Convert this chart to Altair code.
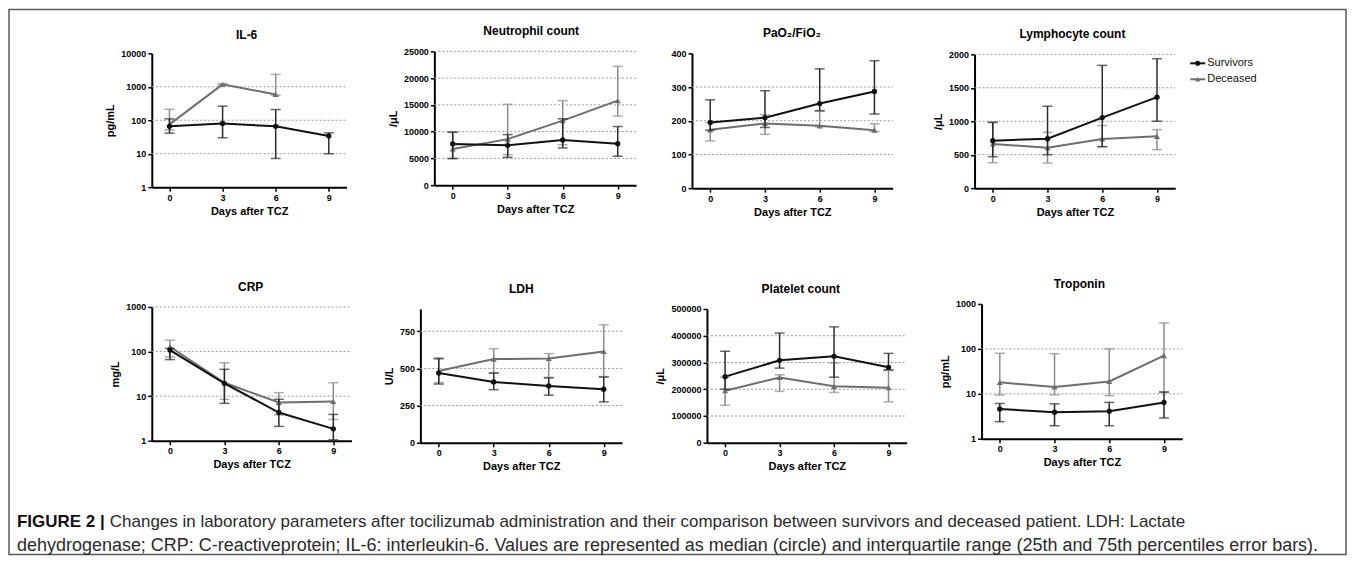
import altair as alt
import pandas as pd

NaN = float("nan")

# ---------------- data ----------------
DAYS = [0, 3, 6, 9]
GROUPS = ["Survivors", "Deceased"]
X_DOMAIN = [-1, 10]
X_TITLE = "Days after TCZ"

TITLES = ["IL-6", "Neutrophil count", "PaO\u2082/FiO\u2082", "Lymphocyte count",
          "CRP", "LDH", "Platelet count", "Troponin"]
Y_TITLES = ["pg/mL", "/\u03bcL", "", "/\u03bcL", "mg/L", "U/L", "/\u03bcL", "pg/mL"]
Y_TYPES = ["log", "linear", "linear", "linear", "log", "linear", "linear", "log"]
Y_DOMAINS = [[1, 10000], [0, 25000], [0, 400], [0, 2000],
             [1, 1000], [0, 900], [0, 500000], [1, 1000]]
Y_TICKS = [[1, 10, 100, 1000, 10000], [0, 5000, 10000, 15000, 20000, 25000],
           [0, 100, 200, 300, 400], [0, 500, 1000, 1500, 2000],
           [1, 10, 100, 1000], [0, 250, 500, 750],
           [0, 100000, 200000, 300000, 400000, 500000], [1, 10, 100, 1000]]
Y_GRID = [[10, 100, 1000], [5000, 10000, 15000, 20000, 25000], [100, 200, 300],
          [500, 1000, 1500, 2000], [10, 100, 1000], [250, 500, 750],
          [100000, 200000, 300000, 400000], [10, 100]]

# median, 25th percentile, 75th percentile
IL6_SURV_MED = [66, 80, 66, 34]
IL6_SURV_Q1 = [41, 30, 7.2, 10]
IL6_SURV_Q3 = [110, 263, 209, 42]
IL6_DEC_MED = [75, 1180, 590, NaN]
IL6_DEC_Q1 = [52, 1150, 560, NaN]
IL6_DEC_Q3 = [213, 1250, 2350, NaN]

NEU_SURV_MED = [7700, 7450, 8450, 7750]
NEU_SURV_Q1 = [5000, 5200, 6950, 5400]
NEU_SURV_Q3 = [9900, 9450, 12400, 10950]
NEU_DEC_MED = [6750, 8600, 12050, 15800]
NEU_DEC_Q1 = [4900, 5700, 7550, 12900]
NEU_DEC_Q3 = [9900, 15100, 15800, 22200]

PAO_SURV_MED = [195, 209, 251, 287]
PAO_SURV_Q1 = [172, 180, 230, 220]
PAO_SURV_Q3 = [262, 289, 354, 378]
PAO_DEC_MED = [173, 192, 185, 172]
PAO_DEC_Q1 = [140, 160, 182, 168]
PAO_DEC_Q3 = [195, 218, 228, 191]

LYM_SURV_MED = [710, 740, 1055, 1360]
LYM_SURV_Q1 = [470, 500, 620, 1000]
LYM_SURV_Q3 = [985, 1225, 1835, 1935]
LYM_DEC_MED = [660, 605, 735, 775]
LYM_DEC_Q1 = [380, 375, 620, 575]
LYM_DEC_Q3 = [980, 835, 935, 875]

CRP_SURV_MED = [108, 19.4, 4.3, 1.85]
CRP_SURV_Q1 = [66, 6.9, 2.1, 1.05]
CRP_SURV_Q3 = [118, 40, 8.5, 3.9]
CRP_DEC_MED = [128, 20, 7.2, 7.6]
CRP_DEC_Q1 = [76, 8.5, 3.8, 3.0]
CRP_DEC_Q3 = [180, 56, 12, 20]

LDH_SURV_MED = [469, 409, 382, 360]
LDH_SURV_Q1 = [395, 357, 320, 275]
LDH_SURV_Q3 = [565, 469, 436, 442]
LDH_DEC_MED = [483, 563, 567, 614]
LDH_DEC_Q1 = [405, 470, 440, 445]
LDH_DEC_Q3 = [572, 632, 600, 793]

PLT_SURV_MED = [247000, 308000, 323000, 282000]
PLT_SURV_Q1 = [200000, 279000, 245000, 273000]
PLT_SURV_Q3 = [342000, 410000, 433000, 334000]
PLT_DEC_MED = [194500, 244000, 211000, 206000]
PLT_DEC_Q1 = [140000, 192000, 188000, 153000]
PLT_DEC_Q3 = [245000, 254000, 298000, 270000]

TRO_SURV_MED = [4.6, 3.9, 4.1, 6.45]
TRO_SURV_Q1 = [2.4, 1.95, 1.95, 2.9]
TRO_SURV_Q3 = [6.1, 6.0, 6.45, 11]
TRO_DEC_MED = [18, 14.2, 18.9, 70.6]
TRO_DEC_Q1 = [9.4, 9.5, 9.1, 10.8]
TRO_DEC_Q3 = [80, 78, 100, 377]

SERIES = [
    (IL6_SURV_MED, IL6_SURV_Q1, IL6_SURV_Q3, IL6_DEC_MED, IL6_DEC_Q1, IL6_DEC_Q3),
    (NEU_SURV_MED, NEU_SURV_Q1, NEU_SURV_Q3, NEU_DEC_MED, NEU_DEC_Q1, NEU_DEC_Q3),
    (PAO_SURV_MED, PAO_SURV_Q1, PAO_SURV_Q3, PAO_DEC_MED, PAO_DEC_Q1, PAO_DEC_Q3),
    (LYM_SURV_MED, LYM_SURV_Q1, LYM_SURV_Q3, LYM_DEC_MED, LYM_DEC_Q1, LYM_DEC_Q3),
    (CRP_SURV_MED, CRP_SURV_Q1, CRP_SURV_Q3, CRP_DEC_MED, CRP_DEC_Q1, CRP_DEC_Q3),
    (LDH_SURV_MED, LDH_SURV_Q1, LDH_SURV_Q3, LDH_DEC_MED, LDH_DEC_Q1, LDH_DEC_Q3),
    (PLT_SURV_MED, PLT_SURV_Q1, PLT_SURV_Q3, PLT_DEC_MED, PLT_DEC_Q1, PLT_DEC_Q3),
    (TRO_SURV_MED, TRO_SURV_Q1, TRO_SURV_Q3, TRO_DEC_MED, TRO_DEC_Q1, TRO_DEC_Q3),
]

CAPTION_BOLD = "FIGURE 2 |"
CAPTION_LINE1 = ("Changes in laboratory parameters after tocilizumab administration and their "
                 "comparison between survivors and deceased patient. LDH: Lactate")
CAPTION_LINE2 = ("dehydrogenase; CRP: C-reactiveprotein; IL-6: interleukin-6. Values are represented "
                 "as median (circle) and interquartile range (25th and 75th percentiles error bars).")

# ---------------- layout / style ----------------
FONT = "Liberation Sans"
CAP_FONT = "Liberation Sans"
ORIGIN = 9          # page px of the frame's top-left corner
W, H = 1339, 546    # frame size

# plot boxes in page px: left, right, top, bottom
PANEL_BOX = [(152, 347, 53, 187), (435, 637, 51, 185), (693, 894, 53, 188), (976, 1177, 54, 188),
             (152, 352, 307, 441), (421, 623, 309, 443), (708, 908, 309, 443), (983, 1184, 304, 439)]
TITLE_POS = [(247, 35), (532, 31), (793, 33), (1074, 34),
             (251, 287), (522, 289), (802, 289), (1081, 284)]

LINE_COL = {"Survivors": "#111111", "Deceased": "#6e6e6e"}
ERR_COL = {"Survivors": "#2a2a2a", "Deceased": "#8c8c8c"}
SHAPE = {"Survivors": "circle", "Deceased": "triangle-up"}
SIZE = {"Survivors": 28, "Deceased": 36}


def px(v):
    return v - ORIGIN


def build_panel(i):
    left, right, top, bottom = PANEL_BOX[i]
    xs = alt.Scale(domain=X_DOMAIN, range=[px(left), px(right)], nice=False, zero=False)
    if Y_TYPES[i] == "log":
        ys = alt.Scale(type="log", domain=Y_DOMAINS[i], range=[px(bottom), px(top)], nice=False)
    else:
        ys = alt.Scale(type="linear", domain=Y_DOMAINS[i], range=[px(bottom), px(top)],
                       nice=False, zero=False)
    # axes are drawn at each panel's own edges
    x_axis = alt.Axis(orient="bottom", offset=px(bottom) - H, values=DAYS, title=X_TITLE,
                      titlePadding=3, format="d", labelFlush=False)
    y_axis = alt.Axis(orient="left", offset=-px(left), values=Y_TICKS[i], title=Y_TITLES[i],
                      format="d", titlePadding=5, labelOverlap=False)

    s_med, s_q1, s_q3, d_med, d_q1, d_q3 = SERIES[i]
    rows = []
    for g, med, q1, q3 in [("Survivors", s_med, s_q1, s_q3), ("Deceased", d_med, d_q1, d_q3)]:
        for d, m, a, b in zip(DAYS, med, q1, q3):
            rows.append({"day": d, "group": g, "med": m, "q1": a, "q3": b})
    df = pd.DataFrame(rows)

    grid = alt.Chart(pd.DataFrame({"g": Y_GRID[i]})).mark_rule(
        color="#9a9a9a", strokeDash=[2, 2], strokeWidth=1
    ).encode(
        x=alt.XDatum(X_DOMAIN[0], scale=xs, axis=x_axis),
        x2=alt.X2Datum(X_DOMAIN[1]),
        y=alt.Y("g:Q", scale=ys, axis=y_axis),
    )
    layers = [grid]
    for g in ["Deceased", "Survivors"]:
        base = alt.Chart(df).transform_filter(alt.datum.group == g)
        valid = base.transform_filter("isValid(datum.q1) && isValid(datum.q3)")
        err = valid.mark_rule(color=ERR_COL[g], strokeWidth=1.5).encode(
            x=alt.X("day:Q", scale=xs, axis=x_axis),
            y=alt.Y("q1:Q", scale=ys, axis=y_axis),
            y2="q3:Q",
        )
        caps = valid.transform_fold(["q1", "q3"], as_=["end", "v"]).mark_tick(
            orient="horizontal", color=ERR_COL[g], size=10, thickness=1.5
        ).encode(
            x=alt.X("day:Q", scale=xs, axis=x_axis),
            y=alt.Y("v:Q", scale=ys, axis=y_axis),
        )
        mb = base.transform_filter("isValid(datum.med)")
        line = mb.mark_line(color=LINE_COL[g], strokeWidth=2).encode(
            x=alt.X("day:Q", scale=xs, axis=x_axis),
            y=alt.Y("med:Q", scale=ys, axis=y_axis),
            order="day:Q",
        )
        pts = mb.mark_point(shape=SHAPE[g], filled=True, size=SIZE[g], color=LINE_COL[g],
                            opacity=1).encode(
            x=alt.X("day:Q", scale=xs, axis=x_axis),
            y=alt.Y("med:Q", scale=ys, axis=y_axis),
        )
        layers += [err, caps, line, pts]

    title = alt.Chart(pd.DataFrame({"t": [TITLES[i]]})).mark_text(
        font=FONT, fontSize=12, fontWeight="bold", color="#000", align="center", baseline="middle"
    ).encode(text="t:N", x=alt.value(px(TITLE_POS[i][0])), y=alt.value(px(TITLE_POS[i][1])))
    layers.append(title)
    return alt.layer(*layers)


panels = [build_panel(i) for i in range(8)]

# legend
leg_df = pd.DataFrame({"group": GROUPS, "row": [0, 1]})
lx = alt.Scale(domain=[0, 1], range=[px(1192), px(1207)], nice=False, zero=False)
ly = alt.Scale(domain=[0, 1], range=[px(63), px(79)], nice=False, zero=False)
lcol = alt.Color("group:N", scale=alt.Scale(domain=GROUPS, range=[LINE_COL[g] for g in GROUPS]),
                 legend=None)
lshape = alt.Shape("group:N", scale=alt.Scale(domain=GROUPS, range=[SHAPE[g] for g in GROUPS]),
                   legend=None)
leg_rule = alt.Chart(leg_df).mark_rule(strokeWidth=2).encode(
    x=alt.XDatum(0, scale=lx, axis=None), x2=alt.X2Datum(1),
    y=alt.Y("row:Q", scale=ly, axis=None), color=lcol)
leg_pt = alt.Chart(leg_df).mark_point(filled=True, size=26, opacity=1).encode(
    x=alt.XDatum(0.5, scale=lx, axis=None), y=alt.Y("row:Q", scale=ly, axis=None),
    color=lcol, shape=lshape)
leg_txt = alt.Chart(leg_df).mark_text(font=FONT, fontSize=11, align="left", baseline="middle",
                                      dx=2, color="#111").encode(
    x=alt.XDatum(1, scale=lx, axis=None), y=alt.Y("row:Q", scale=ly, axis=None), text="group:N")
legend = alt.layer(leg_rule, leg_pt, leg_txt)

# caption
cap_bold = alt.Chart(pd.DataFrame({"t": [CAPTION_BOLD]})).mark_text(
    font=CAP_FONT, fontSize=17, fontWeight="bold", align="left", baseline="middle", color="#111"
).encode(text="t:N", x=alt.value(px(17)), y=alt.value(px(522)))
cap_l1 = alt.Chart(pd.DataFrame({"t": [CAPTION_LINE1]})).mark_text(
    font=CAP_FONT, fontSize=17, align="left", baseline="middle", color="#2a2a2a"
).encode(text="t:N", x=alt.value(px(110)), y=alt.value(px(522)))
cap_l2 = alt.Chart(pd.DataFrame({"t": [CAPTION_LINE2]})).mark_text(
    font=CAP_FONT, fontSize=18, align="left", baseline="middle", color="#2a2a2a"
).encode(text="t:N", x=alt.value(px(17)), y=alt.value(px(546)))

chart = alt.layer(*panels, legend, cap_bold, cap_l1, cap_l2).resolve_scale(
    x="independent", y="independent", color="independent", shape="independent"
).resolve_axis(
    x="independent", y="independent"
).properties(
    width=W, height=H,
    autosize=alt.AutoSizeParams(type="none"),
    padding={"left": 1, "top": 1, "right": 1, "bottom": 1},
).configure_view(
    stroke="#5a5a5a", strokeWidth=1.5
).configure_axis(
    domainColor="#000", domainWidth=2, tickColor="#000", tickWidth=1.5, tickSize=4,
    labelFont=FONT, labelFontSize=9, labelFontWeight="bold", labelColor="#000", labelPadding=2,
    titleFont=FONT, titleFontSize=11, titleFontWeight="bold", titleColor="#000", grid=False,
)

chart.save("out.html", embed_options={"renderer": "svg", "actions": False})
